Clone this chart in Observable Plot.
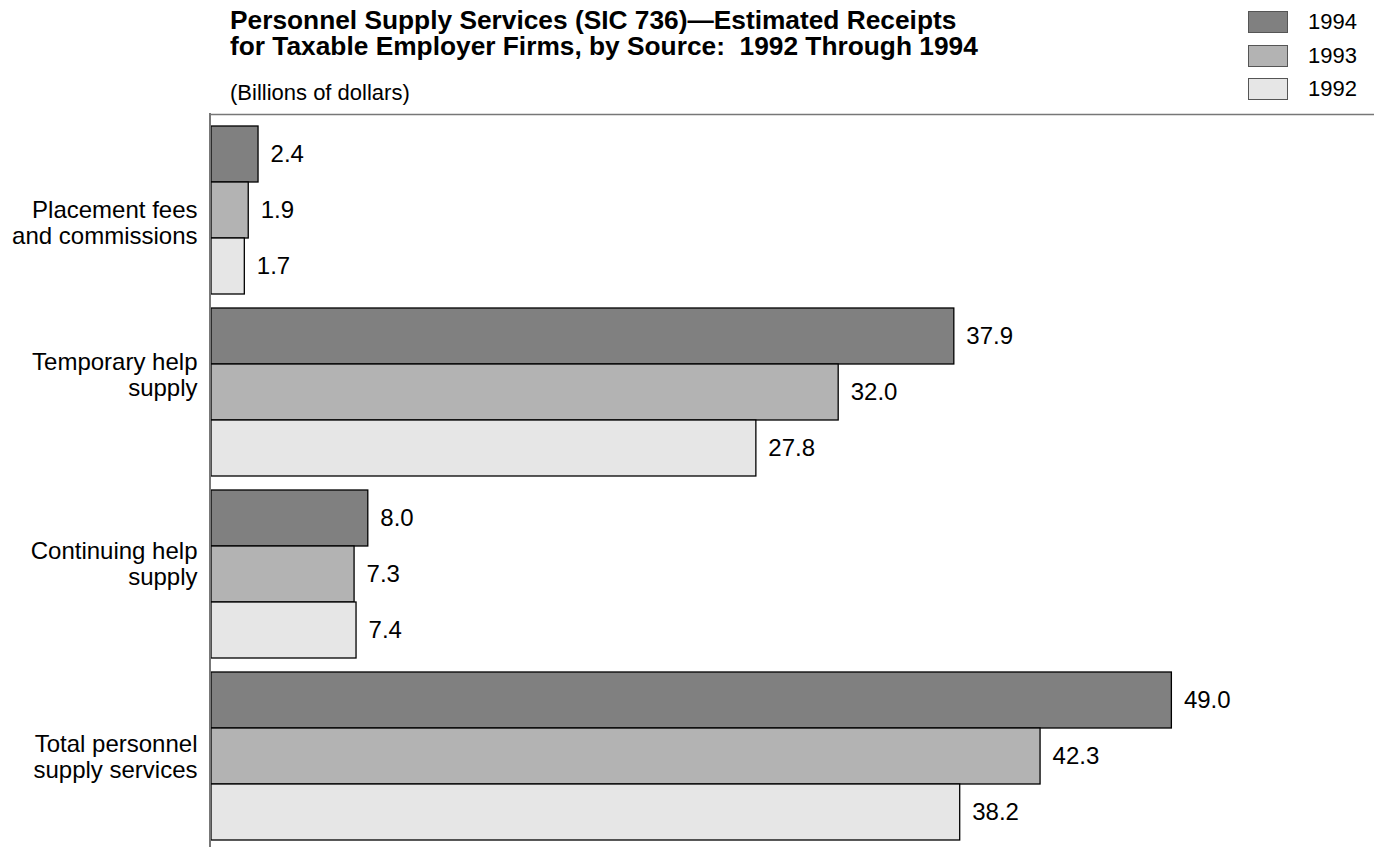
<!DOCTYPE html>
<html>
<head>
<meta charset="utf-8">
<script src="https://cdn.jsdelivr.net/npm/d3@7"></script>
<script src="https://cdn.jsdelivr.net/npm/@observablehq/plot@0.6"></script>
<style>
  html, body { margin: 0; padding: 0; background: #fff; }
  #wrap { position: relative; width: 1376px; height: 850px; overflow: hidden; font-family: "Liberation Sans", Arial, Helvetica, sans-serif; color: #000; }
  #title { position: absolute; left: 230px; top: 7px; font-size: 26.3px; font-weight: bold; line-height: 26px; white-space: pre; }
  #subtitle { position: absolute; left: 230px; top: 80px; font-size: 22px; line-height: 26px; white-space: pre; }
  #legend { position: absolute; left: 1248px; top: 11px; }
  .item { position: absolute; left: 0; width: 130px; height: 22px; }
  .sw { position: absolute; left: 0; top: 0; width: 38px; height: 20px; border: 1px solid #555; }
  .lab { position: absolute; left: 60px; top: -2px; font-size: 22px; line-height: 26px; }
  #chart { position: absolute; left: 0; top: 0; }
</style>
</head>
<body>
<div id="wrap">
  <div id="chart"></div>
  <div id="title"></div>
  <div id="subtitle"></div>
  <div id="legend"></div>
</div>
<script>
// ---- data ----
const titleLines = ["Personnel Supply Services (SIC 736)\u2014Estimated Receipts", "for Taxable Employer Firms, by Source:  1992 Through 1994"];
const subtitle = "(Billions of dollars)";
const categories = ["Placement fees\nand commissions", "Temporary help\nsupply", "Continuing help\nsupply", "Total personnel\nsupply services"];
const years = ["1994", "1993", "1992"];
const v1994 = [2.4, 37.9, 8.0, 49.0];
const v1993 = [1.9, 32.0, 7.3, 42.3];
const v1992 = [1.7, 27.8, 7.4, 38.2];
const colors = ["#808080", "#b3b3b3", "#e6e6e6"];

// ---- table ----
const series = {"1994": v1994, "1993": v1993, "1992": v1992};
const data = [];
categories.forEach((c, i) => {
  years.forEach(y => data.push({category: c, year: y, value: series[y][i]}));
});

document.getElementById("title").textContent = titleLines.join("\n");
document.getElementById("subtitle").textContent = subtitle;

const legend = document.getElementById("legend");
years.forEach((y, i) => {
  const it = document.createElement("div");
  it.className = "item";
  it.style.top = (i * 33.5) + "px";
  it.innerHTML = `<div class="sw" style="background:${colors[i]}"></div><div class="lab">${y}</div>`;
  legend.appendChild(it);
});

// the category labels sit slightly off-centre in the original
const labelShift = [12, -18, -11, 0];

const chart = Plot.plot({
  width: 1376,
  height: 850,
  marginLeft: 211,
  marginRight: 0,
  marginTop: 124,
  marginBottom: 7,
  style: {fontFamily: "'Liberation Sans', Arial, Helvetica, sans-serif", fontSize: "24px", background: "transparent"},
  x: {domain: [0, 59.44], axis: null},
  y: {domain: years, padding: 0, axis: null},
  fy: {domain: categories, paddingInner: 0.064, paddingOuter: 0, label: null, axis: null},
  color: {domain: years, range: colors},
  marks: [
    Plot.barX(data, {x: "value", y: "year", fy: "category", fill: "year", stroke: "#000", strokeWidth: 1.3}),
    Plot.text(data, {x: "value", y: "year", fy: "category", text: d => d.value.toFixed(1), textAnchor: "start", dx: 12, fontSize: 24, fill: "#000"}),
    Plot.ruleX([0], {stroke: "#777", strokeWidth: 2, dx: -1.5, insetTop: -12, insetBottom: -6}),
    Plot.ruleY([{category: categories[0], year: years[0]}], {y: "year", fy: "category", stroke: "#777", strokeWidth: 1.5, dy: -40, x1: 0, x2: 59.44, dx: -2}),
    ...categories.map((c, i) => Plot.text([{category: c}], {fy: "category", text: "category", frameAnchor: "left", textAnchor: "end", dx: -14, dy: labelShift[i], fontSize: 24, lineHeight: 1.08, fill: "#000"}))
  ]
});
document.getElementById("chart").appendChild(chart);
</script>
</body>
</html>
